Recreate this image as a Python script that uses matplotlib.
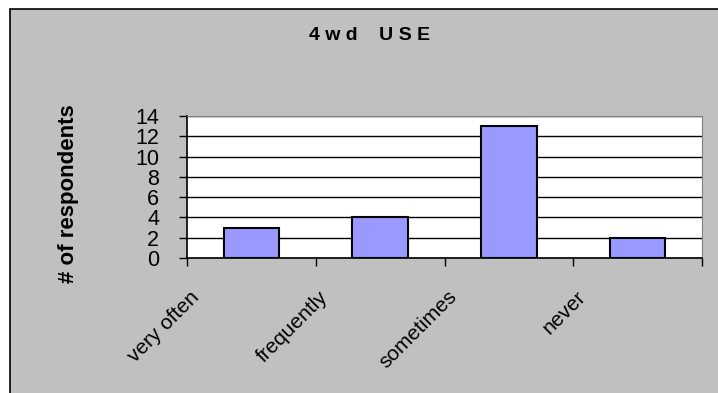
import numpy as np
import matplotlib
matplotlib.use('Agg')
import matplotlib.pyplot as plt
from matplotlib.patches import Rectangle

plt.rcParams['font.family'] = ['Liberation Sans', 'DejaVu Sans']

# dados
categorias = ['very often', 'frequently', 'sometimes', 'never']
respondentes = [3, 4, 13, 2]
yticks = [0, 2, 4, 6, 8, 10, 12, 14]

fig = plt.figure(figsize=(7.18, 3.93), dpi=100, facecolor='white')

# fundo cinza com borda preta (cortada na direita e embaixo)
fundo = Rectangle((10 / 718, -0.05), 1.1, (393 - 9) / 393 + 0.05,
                  transform=fig.transFigure, facecolor='#C0C0C0',
                  edgecolor='black', linewidth=1.2, zorder=-10)
fig.patches.append(fundo)

ax = fig.add_axes([187 / 718, (393 - 258) / 393, (702 - 187) / 718, (258 - 116) / 393])
ax.set_facecolor('white')

x = np.arange(len(categorias))
ax.bar(x, respondentes, width=0.43, color='#9999FF', edgecolor='black', linewidth=1.5, zorder=3)

ax.set_xlim(-0.5, len(categorias) - 0.5)
ax.set_ylim(0, 14)
ax.set_yticks(yticks)
ax.set_yticklabels([str(v) for v in yticks], fontsize=15.5)
ax.yaxis.grid(True, color='black', linewidth=1)
ax.set_axisbelow(True)

# marcas entre categorias, rotulos deslocados
ax.set_xticks(np.arange(len(categorias) + 1) - 0.5)
ax.set_xticklabels([])
ax.set_xticks(x - 0.48, categorias, minor=True)
ax.tick_params(axis='x', which='major', length=6, width=1, direction='out')
ax.tick_params(axis='x', which='minor', length=0, pad=21, labelsize=15)
for lab in ax.get_xticklabels(minor=True):
    lab.set_rotation(45)
    lab.set_ha('right')
    lab.set_va('top')
    lab.set_rotation_mode('anchor')
ax.tick_params(axis='y', length=6, width=1, direction='out', pad=14)

for s in ['top', 'right']:
    ax.spines[s].set_color('#808080')
for s in ['left', 'bottom']:
    ax.spines[s].set_color('black')
    ax.spines[s].set_linewidth(1.2)

ax.set_ylabel('# of respondents', fontsize=16, fontweight='bold')
ax.yaxis.set_label_coords(-0.21, 0.45)
fig.text(370 / 718, 1 - 35 / 393, '4 w d    U S E', fontsize=14, fontweight='bold',
         ha='center', va='center')

fig.savefig('out.png', dpi=100, facecolor=fig.get_facecolor())
